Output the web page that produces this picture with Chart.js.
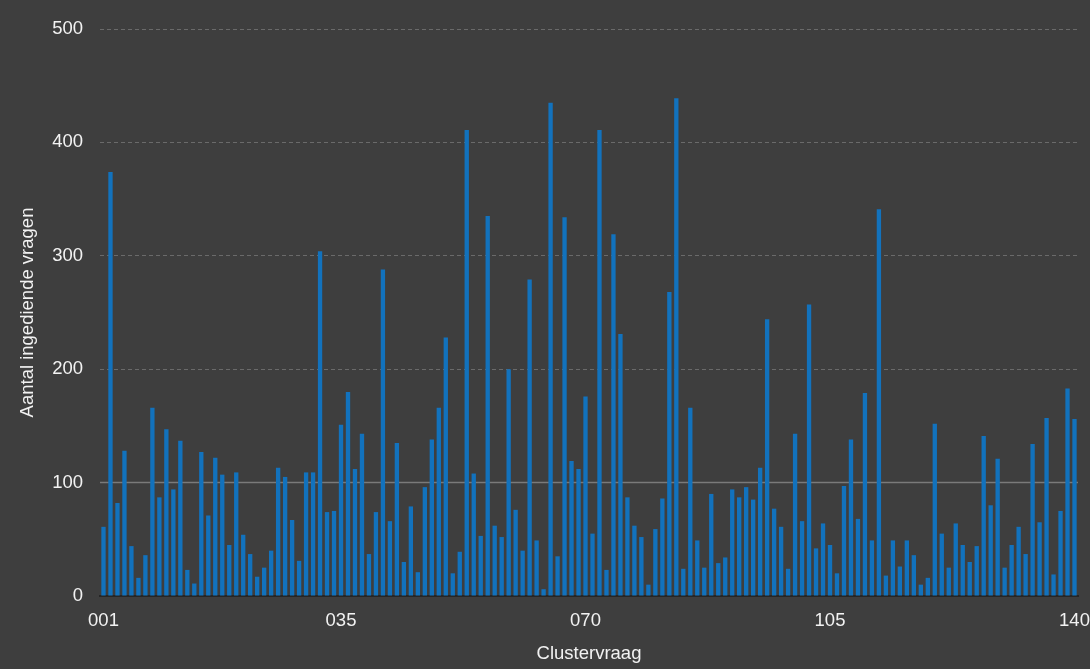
<!DOCTYPE html>
<html>
<head>
<meta charset="utf-8">
<script src="https://cdn.jsdelivr.net/npm/chart.js@4/dist/chart.umd.min.js"></script>
<style>
  html, body { margin: 0; padding: 0; background: #3e3e3e; }
  canvas { display: block; }
</style>
</head>
<body>
<canvas id="chart" width="1090" height="669"></canvas>
<script>
// aantal ingediende vragen per clustervraag 001..140
const counts = [
    61, 374, 82, 128, 44, 16, 36, 166, 87, 147, 94, 137, 23, 11, 127, 71, 122, 107, 45, 109,
    54, 37, 17, 25, 40, 113, 105, 67, 31, 109, 109, 304, 74, 75, 151, 180, 112, 143, 37, 74,
    288, 66, 135, 30, 79, 21, 96, 138, 166, 228, 20, 39, 411, 108, 53, 335, 62, 52, 200, 76,
    40, 279, 49, 6, 435, 35, 334, 119, 112, 176, 55, 411, 23, 319, 231, 87, 62, 52, 10, 59,
    86, 268, 439, 24, 166, 49, 25, 90, 29, 34, 94, 87, 96, 85, 113, 244, 77, 61, 24, 143,
    66, 257, 42, 64, 45, 20, 97, 138, 68, 179, 49, 341, 18, 49, 26, 49, 36, 10, 16, 152,
    55, 25, 64, 45, 30, 44, 141, 80, 121, 25, 45, 61, 37, 134, 65, 157, 19, 75, 183, 156
];
const categories = counts.map((v, i) => String(i + 1).padStart(3, '0'));
const shownTicks = ['001', '035', '070', '105', '140'];
const yTicks = [0, 100, 200, 300, 400, 500];
const referenceValue = 100;

const textColor = '#f2f2f2';
const fontFamily = '"Liberation Sans", Arial, Helvetica, sans-serif';

// solid line at 100, the other grid lines are dashed
const referenceLine = {
    id: 'referenceLine',
    beforeDatasetsDraw(chart) {
        const y = chart.scales.y.getPixelForValue(referenceValue);
        const area = chart.chartArea;
        const ctx = chart.ctx;
        ctx.save();
        ctx.strokeStyle = '#7a7a7a';
        ctx.lineWidth = 1.5;
        ctx.beginPath();
        ctx.moveTo(area.left, y);
        ctx.lineTo(area.right, y);
        ctx.stroke();
        ctx.restore();
    }
};

new Chart(document.getElementById('chart'), {
    type: 'bar',
    data: {
        labels: categories,
        datasets: [{
            label: 'Aantal ingediende vragen',
            data: counts,
            backgroundColor: '#1272bd',
            barPercentage: 0.62,
            categoryPercentage: 1.0
        }]
    },
    options: {
        responsive: false,
        animation: false,
        layout: { padding: { top: 29, right: 12, bottom: 0, left: 0 } },
        plugins: {
            legend: { display: false },
            tooltip: { enabled: false }
        },
        scales: {
            x: {
                offset: true,
                grid: { display: false, drawTicks: false },
                border: { display: true, color: '#262626', width: 2 },
                ticks: {
                    autoSkip: false,
                    maxRotation: 0,
                    padding: 14,
                    color: textColor,
                    font: { family: fontFamily, size: 18.5 },
                    callback: function (value, index) {
                        return shownTicks.includes(categories[index]) ? categories[index] : '';
                    }
                },
                title: {
                    display: true,
                    text: 'Clustervraag',
                    color: textColor,
                    font: { family: fontFamily, size: 18.5 },
                    padding: { top: 4, bottom: 4 }
                },
                afterFit: function (scale) {
                    scale.height = 73;
                    scale.paddingLeft = 0;
                    scale.paddingRight = 0;
                }
            },
            y: {
                min: 0,
                max: 500,
                afterBuildTicks: function (scale) {
                    scale.ticks = yTicks.map(v => ({ value: v }));
                },
                grid: {
                    drawTicks: false,
                    lineWidth: 1,
                    color: function (ctx) {
                        if (ctx.tick.value === 0 || ctx.tick.value === referenceValue) return 'rgba(0,0,0,0)';
                        return '#6a6a6a';
                    }
                },
                border: { display: false, dash: [4, 3] },
                ticks: {
                    padding: 17,
                    color: textColor,
                    font: { family: fontFamily, size: 18.5 }
                },
                title: {
                    display: true,
                    text: 'Aantal ingediende vragen',
                    color: textColor,
                    font: { family: fontFamily, size: 18.5 },
                    padding: { top: 17, bottom: 17 }
                },
                afterFit: function (scale) { scale.width = 100; }
            }
        }
    },
    plugins: [referenceLine]
});
</script>
</body>
</html>
